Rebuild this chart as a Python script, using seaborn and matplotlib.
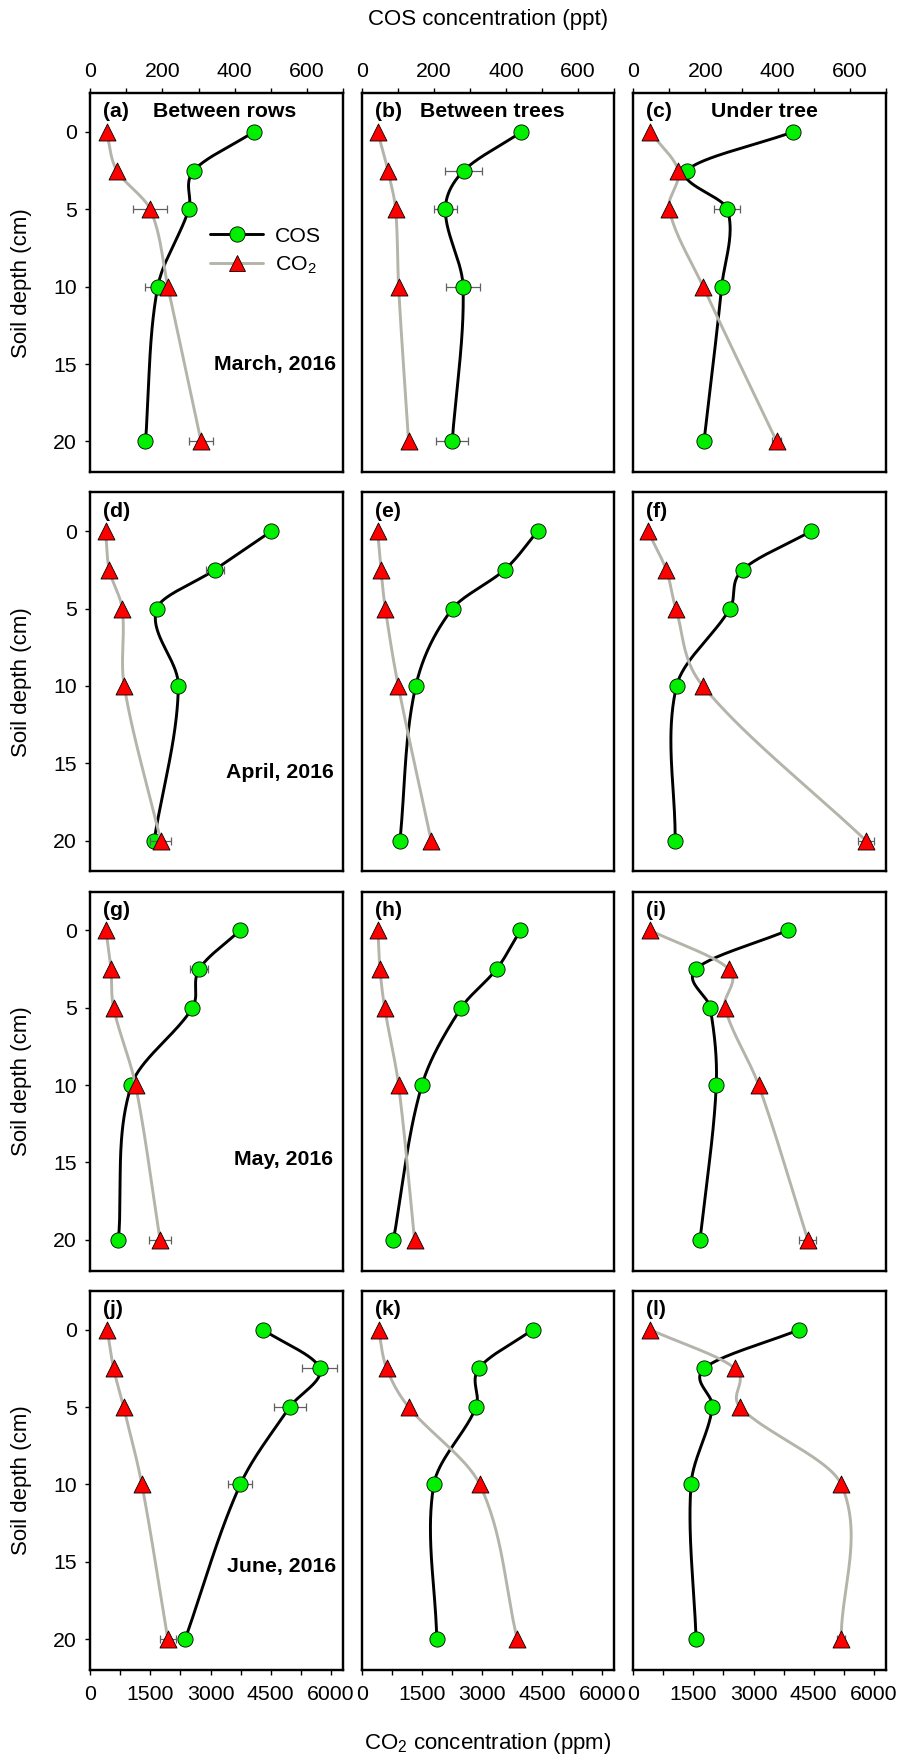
import numpy as np
import seaborn as sns
import matplotlib
matplotlib.use("Agg")
import matplotlib.pyplot as plt
from matplotlib.ticker import MultipleLocator
from matplotlib.lines import Line2D

# soil depths (cm) and panel labels
depth = [0, 2.5, 5, 10, 20]
sites = ["Between rows", "Between trees", "Under tree"]
months = ["March, 2016", "April, 2016", "May, 2016", "June, 2016"]
tags = ["(a)", "(b)", "(c)", "(d)", "(e)", "(f)", "(g)", "(h)", "(i)", "(j)", "(k)", "(l)"]

# COS (ppt), one list per site: between rows, between trees, under tree
cos_march = [[453, 287, 273, 187, 153], [443, 283, 232, 281, 251], [442, 149, 261, 245, 196]]
cos_april = [[502, 345, 184, 244, 177], [488, 396, 252, 150, 106], [493, 303, 268, 120, 116]]
cos_may = [[415, 302, 283, 114, 78], [440, 374, 276, 167, 88], [428, 174, 213, 230, 185]]
cos_june = [[479, 636, 553, 416, 263], [474, 325, 317, 200, 208], [460, 197, 219, 160, 174]]

# CO2 (ppm)
co2_march = [[407, 664, 1494, 1934, 2763], [398, 655, 846, 920, 1169], [423, 1120, 896, 1743, 3577]]
co2_april = [[381, 473, 796, 846, 1758], [398, 481, 589, 912, 1733], [365, 821, 1061, 1733, 5804]]
co2_may = [[390, 514, 580, 1128, 1741], [406, 456, 572, 920, 1318], [423, 2380, 2289, 3126, 4353]]
co2_june = [[423, 581, 830, 1286, 1934], [423, 622, 1169, 2944, 3881], [423, 2531, 2664, 5187, 5187]]

# standard errors
cos_err_march = [[0, 0, 0, 35, 0], [0, 51, 32, 46, 45], [0, 0, 36, 0, 0]]
cos_err_april = [[0, 25, 0, 0, 0], [0, 0, 0, 0, 0], [0, 0, 0, 0, 0]]
cos_err_may = [[0, 25, 0, 0, 0], [0, 0, 0, 0, 0], [0, 0, 0, 0, 0]]
cos_err_june = [[0, 49, 45, 33, 0], [0, 0, 0, 0, 0], [0, 0, 0, 0, 0]]
co2_err_march = [[0, 0, 423, 0, 300], [0, 0, 0, 0, 0], [0, 0, 0, 0, 120]]
co2_err_april = [[0, 0, 0, 0, 260], [0, 0, 0, 0, 50], [0, 0, 0, 0, 200]]
co2_err_may = [[0, 0, 0, 0, 274], [0, 0, 0, 0, 0], [0, 0, 0, 0, 215]]
co2_err_june = [[0, 0, 0, 0, 200], [0, 0, 0, 0, 0], [0, 0, 0, 0, 100]]

cos_all = [cos_march, cos_april, cos_may, cos_june]
co2_all = [co2_march, co2_april, co2_may, co2_june]
cos_err_all = [cos_err_march, cos_err_april, cos_err_may, cos_err_june]
co2_err_all = [co2_err_march, co2_err_april, co2_err_may, co2_err_june]


def smooth_curve(t, v, n=60):
    # cubic Hermite (Catmull-Rom style) through the points, x as a function of depth
    t = np.asarray(t, float)
    v = np.asarray(v, float)
    k = len(t)
    m = np.zeros(k)
    m[0] = (v[1] - v[0]) / (t[1] - t[0])
    m[-1] = (v[-1] - v[-2]) / (t[-1] - t[-2])
    for i in range(1, k - 1):
        m[i] = (v[i + 1] - v[i - 1]) / (t[i + 1] - t[i - 1])
    ts, vs = [], []
    for i in range(k - 1):
        h = t[i + 1] - t[i]
        s = np.linspace(0, 1, n)
        h00 = 2 * s ** 3 - 3 * s ** 2 + 1
        h10 = s ** 3 - 2 * s ** 2 + s
        h01 = -2 * s ** 3 + 3 * s ** 2
        h11 = s ** 3 - s ** 2
        ts.append(t[i] + s * h)
        vs.append(h00 * v[i] + h10 * h * m[i] + h01 * v[i + 1] + h11 * h * m[i + 1])
    return np.concatenate(ts), np.concatenate(vs)


sns.set_style("ticks")
plt.rcParams["font.family"] = ["Liberation Sans", "DejaVu Sans"]
plt.rcParams["mathtext.default"] = "regular"
for key in ["text.color", "axes.labelcolor", "xtick.color", "ytick.color", "axes.edgecolor"]:
    plt.rcParams[key] = "black"
FS = 15.3
FS_AX = 16

green = "#00f000"
red = "#ff0000"
grey_line = "#b4b4aa"
err_col = "#606060"

W, H = 902, 1760
col_left = [90.3, 361.7, 633.3]
row_top = [93.3, 492.5, 891.7, 1291.0]
pw, ph = 252.5, 379.0

site_x = [0.25, 0.232, 0.308]
month_x = [0.973, 0.966, 0.961, 0.973]
month_y = [15.0, 15.6, 14.8, 15.3]

fig = plt.figure(figsize=(W / 100, H / 100), dpi=100)

for r in range(4):
    for c in range(3):
        ax = fig.add_axes([col_left[c] / W, 1 - (row_top[r] + ph) / H, pw / W, ph / H])
        ax2 = ax.twiny()

        cos = cos_all[r][c]
        co2 = co2_all[r][c]

        # COS on the top axis
        tt, vv = smooth_curve(depth, cos)
        ax.plot(vv, tt, color="black", lw=2.1, zorder=2)
        ax.errorbar(cos, depth, xerr=cos_err_all[r][c], fmt="none", ecolor=err_col,
                    elinewidth=0.9, capsize=2.8, capthick=0.9, zorder=3)
        sns.scatterplot(x=cos, y=depth, ax=ax, marker="o", s=120, color=green,
                        edgecolor="black", linewidth=0.6, zorder=4)

        # CO2 on the bottom axis
        tt, vv = smooth_curve(depth, co2)
        ax2.plot(vv, tt, color=grey_line, lw=2.1, zorder=2)
        ax2.errorbar(co2, depth, xerr=co2_err_all[r][c], fmt="none", ecolor=err_col,
                     elinewidth=0.9, capsize=2.8, capthick=0.9, zorder=3)
        sns.scatterplot(x=co2, y=depth, ax=ax2, marker="^", s=150, color=red,
                        edgecolor="black", linewidth=0.6, zorder=4)

        ax.set_xlim(0, 700)
        ax2.set_xlim(0, 6300)
        ax.set_ylim(22, -2.5)
        ax.set_xlabel("")
        ax.set_ylabel("")
        ax2.set_xlabel("")

        ax.xaxis.tick_top()
        ax.xaxis.set_major_locator(MultipleLocator(200))
        ax.xaxis.set_minor_locator(MultipleLocator(100))
        ax2.xaxis.tick_bottom()
        ax2.xaxis.set_major_locator(MultipleLocator(1500))
        ax2.xaxis.set_minor_locator(MultipleLocator(750))
        ax.yaxis.set_major_locator(MultipleLocator(5))

        ax.tick_params(axis="x", which="both", length=3.5, width=1.0, pad=5,
                       labelsize=FS, top=(r == 0), labeltop=(r == 0),
                       bottom=False, labelbottom=False)
        ax2.tick_params(axis="x", which="both", length=3.5, width=1.0, pad=7,
                        labelsize=FS, bottom=(r == 3), labelbottom=(r == 3),
                        top=False, labeltop=False)
        ax.tick_params(axis="y", length=3.5, width=1.0, pad=6, labelsize=FS,
                       left=(c == 0), labelleft=(c == 0), right=False)

        for a in (ax, ax2):
            for sp in a.spines.values():
                sp.set_linewidth(1.6)
                sp.set_color("black")

        i = r * 3 + c
        ax2.text(0.052, 0.951, tags[i], transform=ax.transAxes, fontsize=FS,
                 fontweight="bold", ha="left", va="center")
        if r == 0:
            ax2.text(site_x[c], 0.951, sites[c], transform=ax.transAxes, fontsize=FS,
                     fontweight="bold", ha="left", va="center")
        if c == 0:
            ax2.text(month_x[r], month_y[r], months[r], transform=ax.get_yaxis_transform(),
                     fontsize=FS, fontweight="bold", ha="right", va="center")
            fig.text(22 / W, 1 - (row_top[r] + ph / 2) / H, "Soil depth (cm)",
                     rotation=90, fontsize=FS_AX, ha="center", va="center")

        if r == 0 and c == 0:
            handles = [
                Line2D([0], [0], color="black", lw=2.1, marker="o", markersize=11,
                       markerfacecolor=green, markeredgecolor="black", markeredgewidth=0.6),
                Line2D([0], [0], color=grey_line, lw=2.1, marker="^", markersize=12,
                       markerfacecolor=red, markeredgecolor="black", markeredgewidth=0.6),
            ]
            ax2.legend(handles, ["COS", "CO$_2$"], loc="upper left",
                       bbox_to_anchor=(0.475, 0.648), bbox_transform=ax.transAxes,
                       frameon=False, fontsize=FS, handlelength=2.5,
                       handletextpad=0.55, labelspacing=0.4, borderpad=0,
                       borderaxespad=0)

fig.text(488 / W, 1 - 19 / H, "COS concentration (ppt)", fontsize=FS_AX, ha="center", va="center")
fig.text(488 / W, 1 - 1743 / H, "CO$_2$ concentration (ppm)", fontsize=FS_AX, ha="center", va="center")

fig.savefig("out.png", dpi=100)
